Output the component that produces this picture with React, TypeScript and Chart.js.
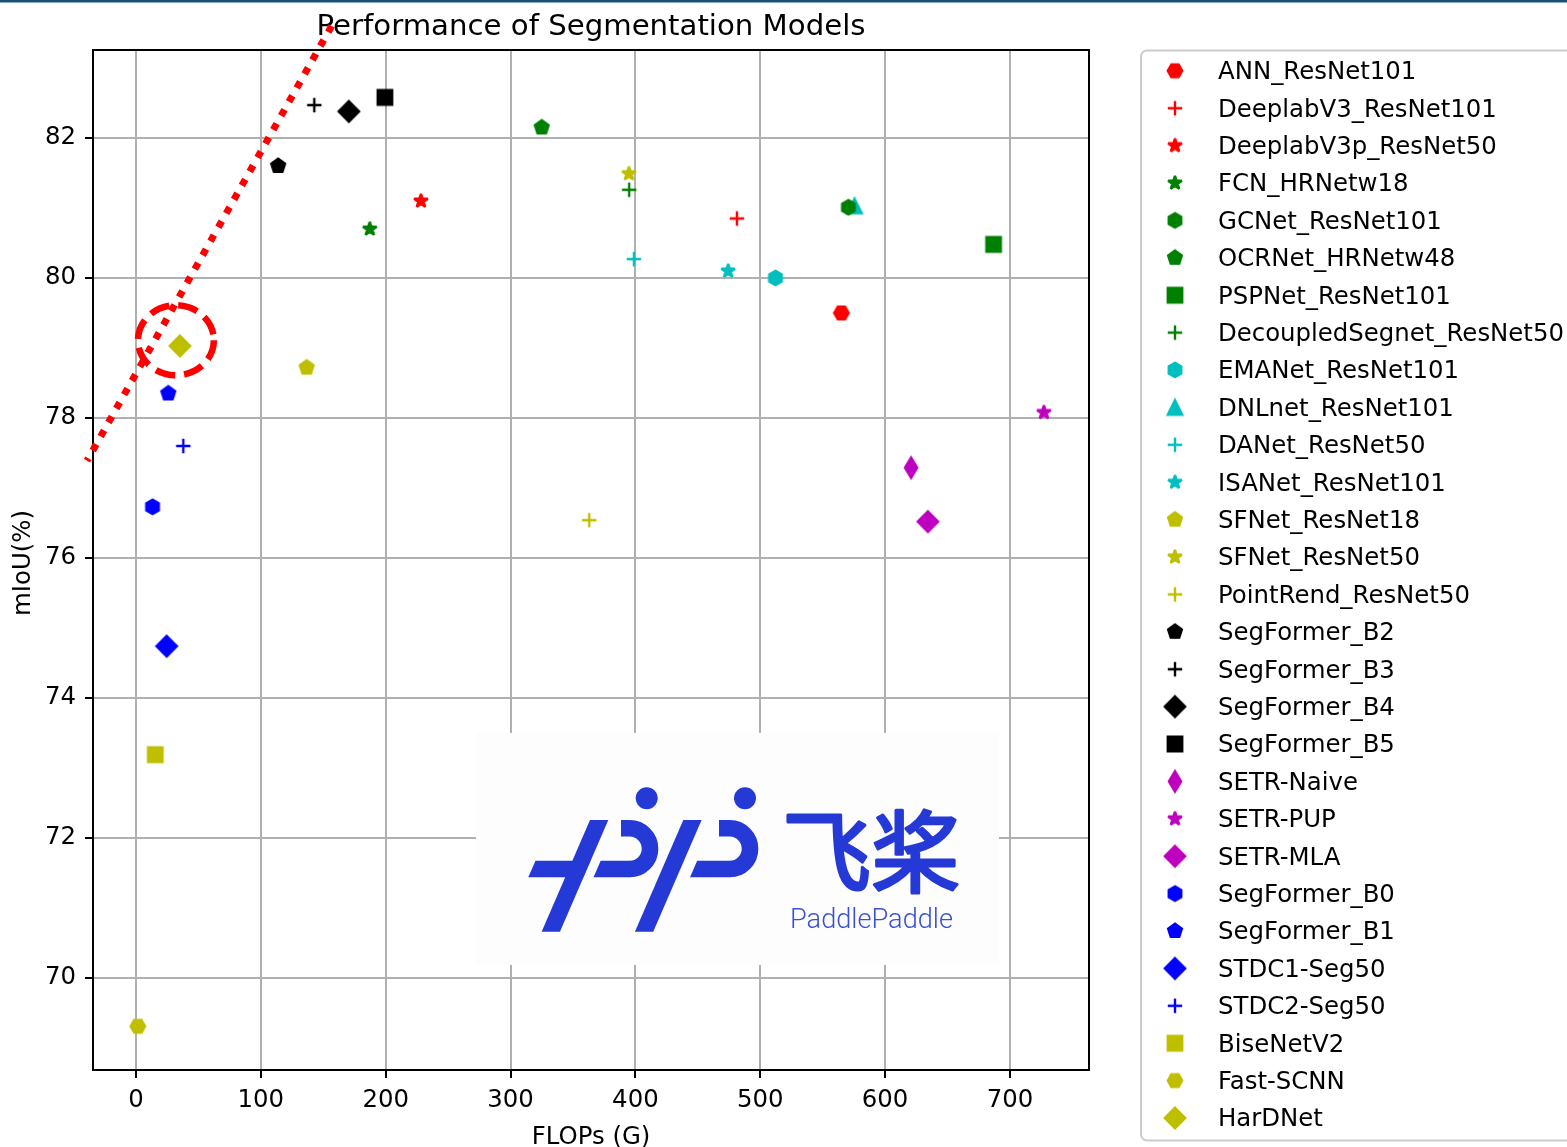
import React, { useEffect, useRef } from 'react';
import { Chart, registerables } from 'chart.js';

Chart.register(...registerables);

// ---------------- data ----------------
const models = [
  'ANN_ResNet101', 'DeeplabV3_ResNet101', 'DeeplabV3p_ResNet50', 'FCN_HRNetw18',
  'GCNet_ResNet101', 'OCRNet_HRNetw48', 'PSPNet_ResNet101', 'DecoupledSegnet_ResNet50',
  'EMANet_ResNet101', 'DNLnet_ResNet101', 'DANet_ResNet50', 'ISANet_ResNet101',
  'SFNet_ResNet18', 'SFNet_ResNet50', 'PointRend_ResNet50', 'SegFormer_B2',
  'SegFormer_B3', 'SegFormer_B4', 'SegFormer_B5', 'SETR-Naive', 'SETR-PUP', 'SETR-MLA',
  'SegFormer_B0', 'SegFormer_B1', 'STDC1-Seg50', 'STDC2-Seg50', 'BiseNetV2', 'Fast-SCNN', 'HarDNet',
];
const flopsG = [
  565.0, 481.3, 228.2, 187.3,
  570.6, 325.0, 686.9, 395.0,
  512.2, 575.5, 398.8, 474.3,
  136.7, 394.8, 363.0, 113.9,
  142.8, 170.5, 199.4, 620.8, 727.2, 634.3,
  13.3, 25.9, 24.6, 37.9, 15.5, 1.5, 35.2,
];
const mIoU = [
  79.50, 80.85, 81.10, 80.70,
  81.01, 82.15, 80.48, 81.26,
  80.00, 81.03, 80.27, 80.10,
  78.72, 81.49, 76.54, 81.60,
  82.47, 82.38, 82.58, 77.29, 78.08, 76.52,
  76.73, 78.35, 74.74, 77.60, 73.19, 69.31, 79.03,
];

// styles (kept apart from the values)
const R = '#ff0000', G = '#008000', C = '#00bfbf', Y = '#bfbf00', K = '#000000', M = '#bf00bf', B = '#0000ff';
const markerColors = [
  R, R, R, G, G, G, G, G, C, C, C, C, Y, Y, Y, K, K, K, K, M, M, M, B, B, B, B, Y, Y, Y,
];
const markerShapes = [
  'H', '+', '*', '*', 'h', 'p', 's', '+', 'h', '^', '+', '*', 'p', '*', '+', 'p',
  '+', 'D', 's', 'd', '*', 'D', 'h', 'p', 'D', '+', 's', 'H', 'D',
];

const xTicks = [0, 100, 200, 300, 400, 500, 600, 700];
const yTicks = [70, 72, 74, 76, 78, 80, 82];
const xRange = [-34.4, 763.3];
const yRange = [68.685, 83.257];

// annotation (data coordinates)
const guideLineX = [156.7, -39.2];
const guideLineY = [83.6, 77.39];
const highlightCenter = { x: 32.0, y: 79.11 };
const highlightRadius = { x: 30.4, y: 0.5 };

const titleText = 'Performance of Segmentation Models';
const xLabel = 'FLOPs (G)';
const yLabel = 'mIoU(%)';

// ---------------- markers ----------------
function makeMarker(shape: string, color: string): HTMLCanvasElement {
  const size = 34;
  const c = document.createElement('canvas');
  c.width = size;
  c.height = size;
  const ctx = c.getContext('2d') as CanvasRenderingContext2D;
  ctx.translate(size / 2, size / 2);
  const s = 14.4;
  ctx.fillStyle = color;
  ctx.strokeStyle = color;
  ctx.lineWidth = 2.4;
  ctx.lineJoin = 'miter';
  const poly = (n: number, r: number, rot: number) => {
    ctx.beginPath();
    for (let k = 0; k < n; k++) {
      const a = rot + (k * 2 * Math.PI) / n;
      const px = r * Math.cos(a);
      const py = r * Math.sin(a);
      if (k === 0) ctx.moveTo(px, py);
      else ctx.lineTo(px, py);
    }
    ctx.closePath();
  };
  switch (shape) {
    case 'H':
      poly(6, s / 2, 0);
      break;
    case 'h':
      poly(6, s / 2, -Math.PI / 2);
      break;
    case 'p':
      poly(5, s / 2, -Math.PI / 2);
      break;
    case '*': {
      ctx.beginPath();
      const ro = s / 2, ri = (s / 2) * 0.381966;
      for (let k = 0; k < 10; k++) {
        const a = -Math.PI / 2 + (k * Math.PI) / 5;
        const r = k % 2 === 0 ? ro : ri;
        const px = r * Math.cos(a), py = r * Math.sin(a);
        if (k === 0) ctx.moveTo(px, py);
        else ctx.lineTo(px, py);
      }
      ctx.closePath();
      ctx.lineJoin = 'bevel';
      break;
    }
    case 's':
      ctx.beginPath();
      ctx.rect(-s / 2, -s / 2, s, s);
      break;
    case 'D': {
      const r = s / Math.SQRT2;
      ctx.beginPath();
      ctx.moveTo(0, -r); ctx.lineTo(r, 0); ctx.lineTo(0, r); ctx.lineTo(-r, 0);
      ctx.closePath();
      break;
    }
    case 'd': {
      const r = s / Math.SQRT2;
      const w = r * 0.6;
      ctx.beginPath();
      ctx.moveTo(0, -r); ctx.lineTo(w, 0); ctx.lineTo(0, r); ctx.lineTo(-w, 0);
      ctx.closePath();
      break;
    }
    case '^':
      ctx.beginPath();
      ctx.moveTo(0, -s / 2); ctx.lineTo(s / 2, s / 2); ctx.lineTo(-s / 2, s / 2);
      ctx.closePath();
      break;
    case '+':
      ctx.beginPath();
      ctx.moveTo(-s / 2, 0); ctx.lineTo(s / 2, 0);
      ctx.moveTo(0, -s / 2); ctx.lineTo(0, s / 2);
      ctx.lineCap = 'butt';
      ctx.stroke();
      return c;
  }
  ctx.fill();
  ctx.stroke();
  return c;
}

// ---------------- logo overlay ----------------
function drawLogo(ctx: CanvasRenderingContext2D) {
  ctx.save();
  ctx.fillStyle = '#fdfdfd';
  ctx.fillRect(476, 733, 523, 232);
  const blue = '#2539d6';
  ctx.fillStyle = blue;
  ctx.strokeStyle = blue;
  // dots
  ctx.beginPath(); ctx.arc(646.7, 798.3, 11, 0, Math.PI * 2); ctx.fill();
  ctx.beginPath(); ctx.arc(745, 798.3, 11, 0, Math.PI * 2); ctx.fill();
  const k = 0.433;
  const top = 860.7, bot = 877.3, h = bot - top;
  // left bar of the cross
  ctx.beginPath();
  ctx.moveTo(528.3 + h * k, top); ctx.lineTo(590.4, top); ctx.lineTo(590.4 - h * k, bot); ctx.lineTo(528.3, bot);
  ctx.closePath(); ctx.fill();
  // slashes
  const slash = (x0: number) => {
    ctx.beginPath();
    ctx.moveTo(x0, 820); ctx.lineTo(x0 + 18.3, 820);
    ctx.lineTo(x0 + 18.3 - 111.7 * k, 931.7); ctx.lineTo(x0 - 111.7 * k, 931.7);
    ctx.closePath(); ctx.fill();
  };
  slash(590);
  slash(683.3);
  // bowls
  const bowl = (xStart: number, cx: number, xTop: number) => {
    ctx.beginPath();
    ctx.moveTo(xStart + h * k, top); ctx.lineTo(cx + 0.5, top); ctx.lineTo(cx + 0.5, bot); ctx.lineTo(xStart, bot);
    ctx.closePath(); ctx.fill();
    ctx.lineWidth = h;
    ctx.lineCap = 'butt';
    ctx.beginPath();
    ctx.moveTo(xTop, 828.3);
    ctx.lineTo(cx, 828.3);
    ctx.arc(cx, 848.65, 20.35, -Math.PI / 2, Math.PI / 2);
    ctx.stroke();
  };
  bowl(593.5, 629.7, 621);
  bowl(690, 729.7, 719);
  // text
  ctx.font = '400 89px "Noto Sans CJK SC"';
  ctx.textAlign = 'center';
  ctx.textBaseline = 'middle';
  ctx.lineWidth = 3;
  ctx.lineJoin = 'round';
  ctx.fillText('飞桨', 871, 851);
  ctx.strokeText('飞桨', 871, 851);
  ctx.fillStyle = '#3a4fd6';
  ctx.font = '300 28px Roboto';
  ctx.textAlign = 'left';
  ctx.textBaseline = 'alphabetic';
  ctx.fillText('PaddlePaddle', 790, 928, 163);
  ctx.restore();
}

const FONT = '"DejaVu Sans", sans-serif';

export default function App() {
  const ref = useRef<HTMLCanvasElement | null>(null);

  useEffect(() => {
    const canvas = ref.current;
    if (!canvas) return;
    const markerImgs = models.map((_, i) => makeMarker(markerShapes[i], markerColors[i]));

    const overlay = {
      id: 'overlay',
      beforeDatasetsDraw(chart: any) {
        drawLogo(chart.ctx);
      },
      afterDatasetsDraw(chart: any) {
        const { ctx, chartArea: a } = chart;
        ctx.save();
        ctx.strokeStyle = '#000';
        ctx.lineWidth = 2;
        ctx.strokeRect(a.left, a.top, a.right - a.left, a.bottom - a.top);
        ctx.restore();
      },
      afterDraw(chart: any) {
        const { ctx, chartArea: a } = chart;
        const xs = chart.scales.x, ys = chart.scales.y;
        ctx.save();
        // top border line of the page
        ctx.fillStyle = '#1b5079';
        ctx.fillRect(0, 0, 1567, 2.5);

        // title & axis labels
        ctx.fillStyle = '#000';
        ctx.textAlign = 'center';
        ctx.textBaseline = 'alphabetic';
        ctx.font = `29.2px ${FONT}`;
        ctx.fillText(titleText, (a.left + a.right) / 2, 35);
        ctx.font = `24.4px ${FONT}`;
        ctx.fillText(xLabel, (a.left + a.right) / 2, 1144);
        ctx.save();
        ctx.translate(30.4, (a.top + a.bottom) / 2 + 3);
        ctx.rotate(-Math.PI / 2);
        ctx.fillText(yLabel, 0, 0);
        ctx.restore();

        // red annotations
        ctx.strokeStyle = '#ff0000';
        ctx.lineWidth = 7;
        ctx.lineCap = 'butt';
        ctx.setLineDash([7, 9]);
        ctx.beginPath();
        ctx.moveTo(xs.getPixelForValue(guideLineX[0]), ys.getPixelForValue(guideLineY[0]));
        ctx.lineTo(xs.getPixelForValue(guideLineX[1]), ys.getPixelForValue(guideLineY[1]));
        ctx.stroke();
        const cx = xs.getPixelForValue(highlightCenter.x);
        const cy = ys.getPixelForValue(highlightCenter.y);
        const rx = Math.abs(xs.getPixelForValue(highlightCenter.x + highlightRadius.x) - cx);
        const ry = Math.abs(ys.getPixelForValue(highlightCenter.y + highlightRadius.y) - cy);
        ctx.lineWidth = 6.5;
        ctx.setLineDash([20, 9]);
        ctx.beginPath();
        ctx.ellipse(cx, cy, rx, ry, 0, 0, Math.PI * 2);
        ctx.stroke();
        ctx.setLineDash([]);

        // legend
        ctx.fillStyle = 'rgba(255,255,255,0.8)';
        ctx.strokeStyle = '#cccccc';
        ctx.lineWidth = 2;
        ctx.beginPath();
        ctx.roundRect(1141, 50.5, 600, 1090, 6);
        ctx.fill();
        ctx.stroke();
        ctx.font = `24.4px ${FONT}`;
        ctx.textAlign = 'left';
        ctx.textBaseline = 'alphabetic';
        ctx.fillStyle = '#000';
        chart.data.datasets.forEach((ds: any, i: number) => {
          const yc = 70.8 + i * 37.4;
          const img = ds.pointStyle as HTMLCanvasElement;
          ctx.drawImage(img, 1175 - img.width / 2, yc - img.height / 2);
          ctx.fillText(ds.label, 1218, yc + 8.4);
        });
        ctx.restore();
      },
    };

    const chart = new Chart(canvas, {
      type: 'scatter',
      data: {
        datasets: models.map((m, i) => ({
          label: m,
          data: [{ x: flopsG[i], y: mIoU[i] }],
          pointStyle: markerImgs[i] as any,
          pointRadius: 8,
          backgroundColor: markerColors[i],
          borderColor: markerColors[i],
          showLine: false,
        })),
      },
      options: {
        animation: false,
        responsive: false,
        events: [],
        layout: { padding: { top: 50, right: 478, left: 0, bottom: 0 } },
        plugins: {
          legend: { display: false },
          tooltip: { enabled: false },
          title: { display: false },
        },
        scales: {
          x: {
            type: 'linear',
            min: xRange[0],
            max: xRange[1],
            afterBuildTicks: (s: any) => {
              s.ticks = xTicks.map((v) => ({ value: v }));
            },
            afterFit: (s: any) => {
              s.height = 77;
            },
            grid: { color: '#b0b0b0', lineWidth: 2, tickColor: '#000', tickWidth: 2, tickLength: 8, drawTicks: true },
            border: { display: false },
            ticks: {
              color: '#000',
              font: { family: 'DejaVu Sans', size: 24.4 },
              padding: 8,
              maxRotation: 0,
              autoSkip: false,
            },
          },
          y: {
            type: 'linear',
            min: yRange[0],
            max: yRange[1],
            afterBuildTicks: (s: any) => {
              s.ticks = yTicks.map((v) => ({ value: v }));
            },
            afterFit: (s: any) => {
              s.width = 93;
            },
            grid: { color: '#b0b0b0', lineWidth: 2, tickColor: '#000', tickWidth: 2, tickLength: 8, drawTicks: true },
            border: { display: false },
            ticks: {
              color: '#000',
              font: { family: 'DejaVu Sans', size: 24.4 },
              padding: 9,
              autoSkip: false,
            },
          },
        },
      },
      plugins: [overlay],
    });
    return () => chart.destroy();
  }, []);

  return (
    <div style={{ position: 'absolute', left: 0, top: 0, width: 1567, height: 1147, background: '#fff' }}>
      <canvas ref={ref} width={1567} height={1147} style={{ display: 'block', width: 1567, height: 1147 }} />
    </div>
  );
}
